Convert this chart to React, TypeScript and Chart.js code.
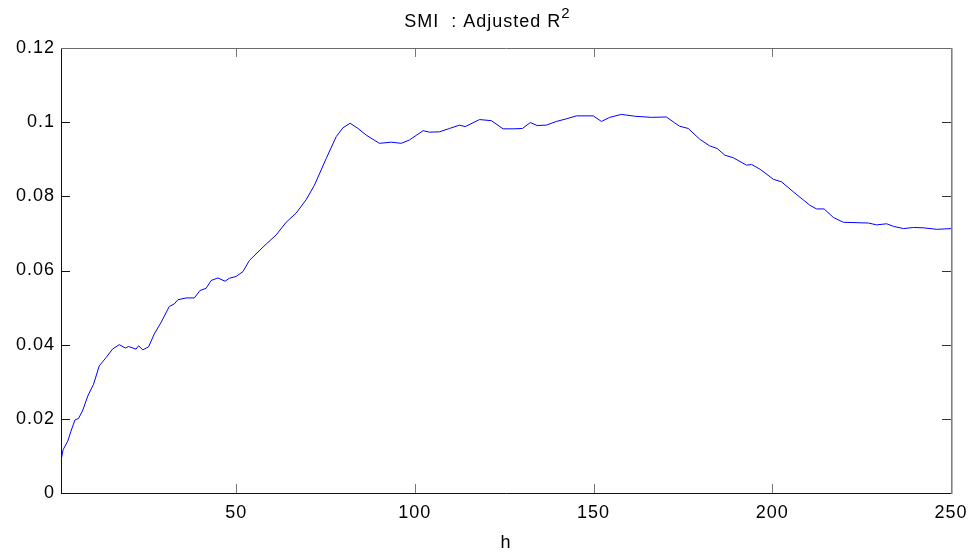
import React, { useEffect, useRef } from "react";
import { Chart, registerables } from "chart.js";

Chart.register(...registerables);

const titleMain = "SMI  : Adjusted R";
const titleSup = "2";
const xAxisLabel = "h";

const hValues = [
  1, 1.6, 2.9, 3.8, 4.9, 5.9, 7, 8.6, 10.1, 11.7, 13.6, 15.4, 17.3, 19, 19.9, 22, 22.7, 23.9, 25.5,
  27.1, 29, 31.3, 32.7, 33.7, 36, 38.3, 39.9, 41.6, 43, 44.9, 46.9, 48.1, 50, 51.9, 53.7, 57.5,
  61.2, 64, 66.8, 69.6, 71.9, 75.2, 78, 79.9, 81.9, 84.1, 86.4, 90.1, 93.4, 96.2, 98.5, 102.3,
  104.1, 106.9, 109.7, 112.5, 114.1, 118.1, 121.4, 124.7, 127.5, 130.1, 132.3, 134.2, 136.8,
  139.6, 142.4, 145.2, 149.9, 152.2, 154.5, 157.8, 161.5, 166.2, 170.4, 172.7, 174.1, 176.5,
  179.7, 182.5, 184.6, 186.7, 189.1, 192.8, 194.2, 196.6, 200.3, 202.6, 205.9, 210.5, 212.4,
  214.5, 217.1, 219.9, 226.9, 229.2, 232, 233.9, 236.7, 239.5, 242.4, 246, 250,
];

const r2Values = [
  0.0088, 0.0117, 0.014, 0.0167, 0.0197, 0.0201, 0.0221, 0.0264, 0.0293, 0.0343, 0.0365, 0.0388,
  0.04, 0.0391, 0.0395, 0.0388, 0.0397, 0.0386, 0.0394, 0.0429, 0.046, 0.0503, 0.051, 0.0521,
  0.0526, 0.0526, 0.0546, 0.0552, 0.0573, 0.058, 0.0571, 0.0579, 0.0584, 0.0597, 0.0627, 0.0663,
  0.0696, 0.073, 0.0755, 0.0791, 0.083, 0.0902, 0.0961, 0.0985, 0.0997, 0.0983, 0.0965, 0.0943,
  0.0946, 0.0943, 0.0952, 0.0977, 0.0973, 0.0974, 0.0983, 0.0992, 0.0988, 0.1007, 0.1004, 0.0982,
  0.0982, 0.0983, 0.0999, 0.0991, 0.0992, 0.1002, 0.1009, 0.1017, 0.1017, 0.1002, 0.1013, 0.1021,
  0.1016, 0.1013, 0.1014, 0.0998, 0.0989, 0.0983, 0.0954, 0.0936, 0.0929, 0.0911, 0.0904, 0.0884,
  0.0886, 0.0873, 0.0846, 0.0839, 0.0812, 0.0776, 0.0766, 0.0766, 0.0743, 0.073, 0.0728, 0.0723,
  0.0726, 0.0719, 0.0713, 0.0716, 0.0715, 0.0711, 0.0713,
];

const xTickValues = [50, 100, 150, 200, 250];
const yTickValues = [0, 0.02, 0.04, 0.06, 0.08, 0.1, 0.12];

const FONT = "'Liberation Sans', Arial, Helvetica, sans-serif";

const framePlugin = {
  id: "matlabFrame",
  beforeDraw(chart: any) {
    chart.ctx.letterSpacing = "1px";
  },
  afterDraw(chart: any) {
    const ctx = chart.ctx;
    const { left, right, top, bottom } = chart.chartArea;
    const xs = chart.scales.x;
    const ys = chart.scales.y;
    ctx.save();
    const tl = 9;
    ctx.lineWidth = 1;
    for (const v of yTickValues) {
      const py = Math.round(ys.getPixelForValue(v)) + 0.5;
      ctx.strokeStyle = "#111";
      ctx.beginPath();
      ctx.moveTo(left, py);
      ctx.lineTo(left + tl, py);
      ctx.stroke();
      ctx.strokeStyle = "#333";
      ctx.beginPath();
      ctx.moveTo(right - tl, py);
      ctx.lineTo(right, py);
      ctx.stroke();
    }
    for (const v of xTickValues) {
      const px = Math.round(xs.getPixelForValue(v)) + 0.5;
      ctx.strokeStyle = "#777";
      ctx.beginPath();
      ctx.moveTo(px, bottom);
      ctx.lineTo(px, bottom - tl);
      ctx.stroke();
      ctx.beginPath();
      ctx.moveTo(px, top);
      ctx.lineTo(px, top + tl);
      ctx.stroke();
    }
    ctx.strokeStyle = "#111";
    ctx.lineWidth = 1;
    ctx.beginPath();
    ctx.moveTo(left + 0.5, top);
    ctx.lineTo(left + 0.5, bottom + 1);
    ctx.moveTo(left, bottom + 0.5);
    ctx.lineTo(right + 1, bottom + 0.5);
    ctx.stroke();
    ctx.strokeStyle = "#6a6a6a";
    ctx.beginPath();
    ctx.moveTo(left, top + 0.5);
    ctx.lineTo(right + 1, top + 0.5);
    ctx.stroke();
    ctx.strokeStyle = "#808080";
    ctx.lineWidth = 1.6;
    ctx.beginPath();
    ctx.moveTo(right + 0.8, top);
    ctx.lineTo(right + 0.8, bottom + 1);
    ctx.stroke();

    ctx.fillStyle = "#000";
    ctx.letterSpacing = "1px";
    ctx.textBaseline = "alphabetic";
    ctx.textAlign = "left";
    ctx.font = `18px ${FONT}`;
    const w1 = ctx.measureText(titleMain).width;
    ctx.font = `15px ${FONT}`;
    const w2 = ctx.measureText(titleSup).width;
    const total = w1 + w2;
    const x0 = chart.width / 2 - total / 2;
    ctx.font = `18px ${FONT}`;
    ctx.fillText(titleMain, x0, 27);
    ctx.font = `15px ${FONT}`;
    ctx.fillText(titleSup, x0 + w1, 18);
    ctx.restore();
    ctx.letterSpacing = "0px";
  },
};

export default function App() {
  const ref = useRef<HTMLCanvasElement | null>(null);
  useEffect(() => {
    if (!ref.current) return;
    const data = hValues.map((h, i) => ({ x: h, y: r2Values[i] }));
    const chart = new Chart(ref.current, {
      type: "line",
      data: {
        datasets: [
          {
            data,
            borderColor: "#0000ff",
            borderWidth: 1,
            pointRadius: 0,
            tension: 0,
            fill: false,
          },
        ],
      },
      options: {
        responsive: false,
        animation: false,
        layout: { padding: { left: 0, right: 22, top: 48, bottom: 0 } },
        plugins: {
          legend: { display: false },
          title: { display: false },
          tooltip: { enabled: false },
        },
        scales: {
          x: {
            type: "linear",
            min: 1,
            max: 250,
            grid: { display: false, drawTicks: false },
            border: { display: false },
            afterBuildTicks: (scale: any) => {
              scale.ticks = xTickValues.map((v) => ({ value: v }));
            },
            afterFit: (scale: any) => {
              scale.height = 61;
            },
            ticks: {
              color: "#000",
              font: { family: FONT, size: 18 },
              padding: 9,
              maxRotation: 0,
              autoSkip: false,
              callback: (v: any) => String(v),
            },
            title: {
              display: true,
              text: xAxisLabel,
              color: "#000",
              font: { family: FONT, size: 18 },
              padding: { top: 0, bottom: 0 },
            },
          },
          y: {
            type: "linear",
            min: 0,
            max: 0.12,
            grid: { display: false, drawTicks: false },
            border: { display: false },
            afterBuildTicks: (scale: any) => {
              scale.ticks = yTickValues.map((v) => ({ value: v }));
            },
            afterFit: (scale: any) => {
              scale.width = 61;
            },
            ticks: {
              color: "#000",
              font: { family: FONT, size: 18 },
              padding: 6,
              autoSkip: false,
              callback: (v: any) => String(Number(Number(v).toFixed(2))),
            },
          },
        },
      },
      plugins: [framePlugin],
    });
    return () => chart.destroy();
  }, []);
  return (
    <div style={{ position: "fixed", left: 0, top: 0, width: 975, height: 554, background: "#fff" }}>
      <canvas ref={ref} width={975} height={554} style={{ display: "block", width: 975, height: 554 }} />
    </div>
  );
}
